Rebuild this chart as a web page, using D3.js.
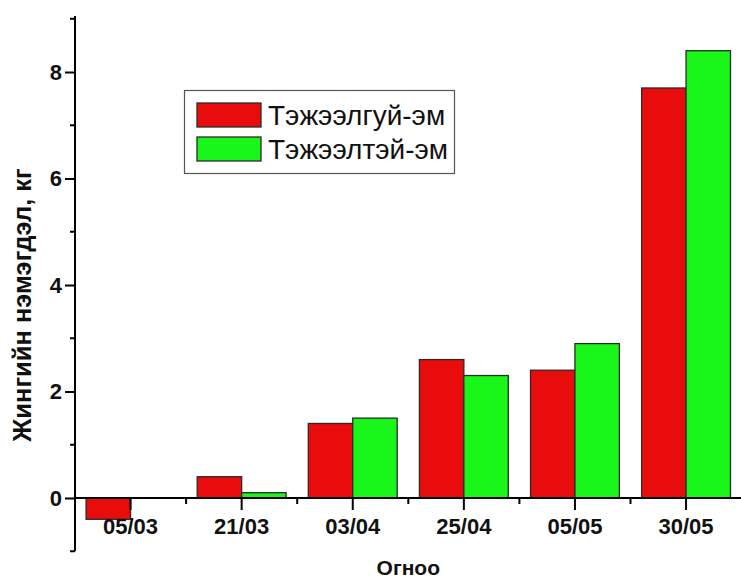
<!DOCTYPE html>
<html>
<head>
<meta charset="utf-8">
<script src="https://cdn.jsdelivr.net/npm/d3@7"></script>
<style>
  html, body { margin: 0; padding: 0; background: #fff; }
  svg { display: block; }
  text { font-family: "Liberation Sans", Arial, sans-serif; }
</style>
</head>
<body>
<div id="chart"></div>
<script>
// Dates of weighing
const dates = ["05/03", "21/03", "03/04", "25/04", "05/05", "30/05"];
// Weight gain, kg
const withoutFeed = [-0.4, 0.4, 1.4, 2.6, 2.4, 7.7];
const withFeed = [0.0, 0.1, 1.5, 2.3, 2.9, 8.4];
const seriesNames = ["Тэжээлгуй-эм", "Тэжээлтэй-эм"];
const seriesColors = ["#e80c0c", "#1af51a"];
const yTicks = [0, 2, 4, 6, 8];
const yMinorTicks = [-1, 1, 3, 5, 7, 9];

const W = 741, H = 579;
const left = 75, right = 741.6;

const svg = d3.select("#chart").append("svg")
  .attr("width", W).attr("height", H);

const x = d3.scaleBand().domain(dates).range([left, right])
  .paddingInner(0.2).paddingOuter(0.1);
const sub = d3.scaleBand().domain([0, 1]).range([0, x.bandwidth()]);
const y = d3.scaleLinear().domain([-1, 9.05]).range([551.25, 16.1]);

const series = [withoutFeed, withFeed];

// bars
series.forEach((vals, si) => {
  svg.append("g").selectAll("rect").data(vals).join("rect")
    .attr("x", (d, i) => x(dates[i]) + sub(si))
    .attr("width", sub.bandwidth())
    .attr("y", d => y(Math.max(0, d)))
    .attr("height", d => Math.abs(y(d) - y(0)))
    .attr("fill", seriesColors[si])
    .attr("stroke", "#2a2a2a")
    .attr("stroke-width", 1.3);
});

// y axis
const yAxis = svg.append("g").attr("transform", `translate(${left},0)`)
  .call(d3.axisLeft(y).tickValues(yTicks).tickSize(10).tickPadding(3).tickFormat(d3.format("d")));
yAxis.append("g").selectAll("line").data(yMinorTicks).join("line")
  .attr("x1", -5).attr("x2", 0)
  .attr("y1", d => y(d)).attr("y2", d => y(d))
  .attr("stroke", "#000").attr("stroke-width", 2);
yAxis.select(".domain").attr("d", `M0,${y(-1)}V${y(9.05)}`);

// x axis along zero
const xAxis = svg.append("g").attr("transform", `translate(0,${y(0)})`)
  .call(d3.axisBottom(x).tickSize(12).tickPadding(8));
xAxis.select(".domain").attr("d", `M${left},0H${right}`);
const minorX = dates.slice(1).map(d => x(d) - x.step() * x.paddingInner() / 2);
xAxis.append("g").selectAll("line").data(minorX).join("line")
  .attr("x1", d => d).attr("x2", d => d)
  .attr("y1", 0).attr("y2", 6)
  .attr("stroke", "#000").attr("stroke-width", 2);

[yAxis, xAxis].forEach(a => {
  a.selectAll(".domain").attr("stroke", "#000").attr("stroke-width", 2);
  a.selectAll(".tick line").attr("stroke", "#000").attr("stroke-width", 2);
  a.selectAll(".tick text").attr("fill", "#111")
    .style("font-size", "22px").style("font-weight", "bold");
});

// axis titles
svg.append("text")
  .attr("transform", `translate(31,305) rotate(-90)`)
  .attr("text-anchor", "middle")
  .style("font-size", "25.5px").style("font-weight", "bold").attr("fill", "#111")
  .text("Жингийн нэмэгдэл, кг");
svg.append("text")
  .attr("x", (left + right) / 2).attr("y", 575)
  .attr("text-anchor", "middle")
  .style("font-size", "21px").style("font-weight", "bold").attr("fill", "#111")
  .text("Огноо");

// legend
const lg = svg.append("g");
lg.append("rect").attr("x", 184.5).attr("y", 90.5).attr("width", 270).attr("height", 83)
  .attr("fill", "#fff").attr("stroke", "#555").attr("stroke-width", 1.2);
seriesNames.forEach((name, i) => {
  const cy = 115 + i * 34;
  lg.append("rect").attr("x", 197).attr("y", cy - 12).attr("width", 64).attr("height", 24)
    .attr("fill", seriesColors[i]).attr("stroke", "#2a2a2a").attr("stroke-width", 1.3);
  lg.append("text").attr("x", 268).attr("y", cy + 10)
    .style("font-size", "28px").attr("fill", "#111").text(name);
});
</script>
</body>
</html>
